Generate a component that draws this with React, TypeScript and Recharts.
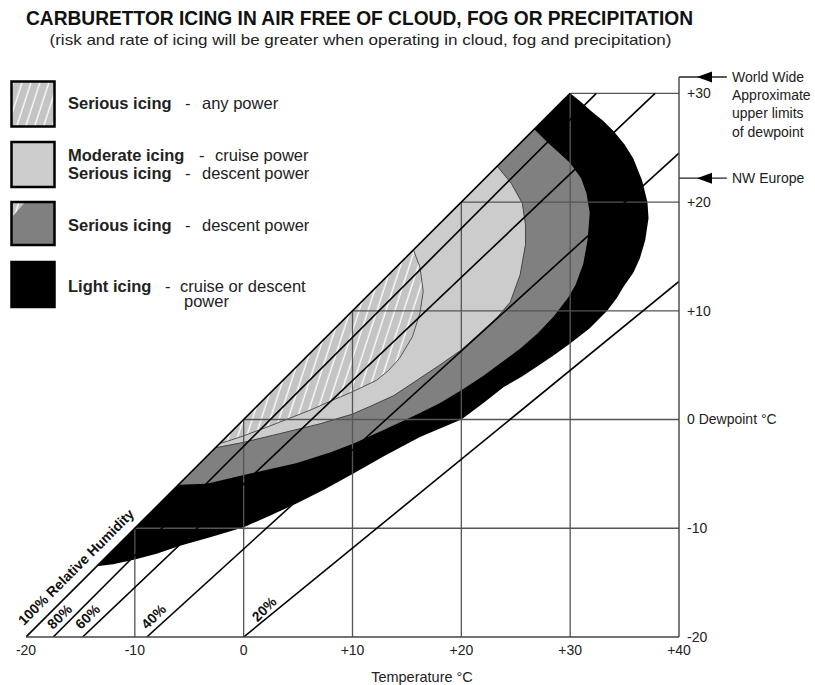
import React from "react";
import { ComposedChart, XAxis, YAxis, Area, Line, ReferenceLine } from "recharts";

//#region Data

type Pt = { t: number; td: number };

const tempTicks = [-20, -10, 0, 10, 20, 30, 40];
const dewTicks = [-20, -10, 0, 10, 20, 30];
const innerTicks = [-10, 0, 10, 20, 30];
const dewTop = 31.5;

const worldWideLimit = 31.5;
const nwEuropeLimit = 22.2;

// zone outlines (temperature, dewpoint), each walked round as a closed loop
const lightIcing: Pt[] = [
  { t: -13.5, td: -13.5 }, { t: 30, td: 30 }, { t: 31, td: 29.2 }, { t: 32, td: 28.3 },
  { t: 33, td: 27.5 }, { t: 34, td: 26.5 }, { t: 35, td: 25.3 }, { t: 35.8, td: 24.0 },
  { t: 36.6, td: 22.0 }, { t: 37.1, td: 20.0 }, { t: 37.2, td: 18.5 }, { t: 36.9, td: 16.5 },
  { t: 36.4, td: 14.8 }, { t: 35.8, td: 13.5 }, { t: 34.9, td: 12.2 }, { t: 34.3, td: 11.2 },
  { t: 33.4, td: 10.0 }, { t: 31.8, td: 8.4 }, { t: 30, td: 7.0 }, { t: 28.5, td: 5.9 },
  { t: 27, td: 4.9 }, { t: 25.5, td: 3.9 }, { t: 23.9, td: 3.0 }, { t: 22, td: 1.5 },
  { t: 20, td: 0 }, { t: 16.2, td: -1.6 }, { t: 13, td: -3.3 }, { t: 10, td: -5.0 },
  { t: 7.5, td: -6.4 }, { t: 4.9, td: -7.7 }, { t: 2.5, td: -8.8 }, { t: 0, td: -9.9 },
  { t: -3, td: -10.8 }, { t: -5.85, td: -11.6 }, { t: -8, td: -12.35 }, { t: -10.1, td: -12.9 },
  { t: -12, td: -13.3 }, { t: -13.5, td: -13.5 },
];

const seriousDescent: Pt[] = [
  { t: -6, td: -6 }, { t: 26.7, td: 26.7 }, { t: 28, td: 25.4 }, { t: 29, td: 24.5 },
  { t: 30, td: 23.6 }, { t: 31, td: 22.2 }, { t: 31.5, td: 20.8 }, { t: 31.8, td: 19.0 },
  { t: 31.6, td: 16.5 }, { t: 31.2, td: 14.3 }, { t: 30.5, td: 12.4 }, { t: 29.8, td: 11.2 },
  { t: 28.5, td: 9.5 }, { t: 27, td: 7.9 }, { t: 25.5, td: 6.6 }, { t: 23.9, td: 5.4 },
  { t: 22, td: 4.0 }, { t: 20, td: 2.7 }, { t: 18, td: 1.5 }, { t: 16.2, td: 0.6 },
  { t: 13, td: -0.9 }, { t: 10.1, td: -2.2 }, { t: 8, td: -3.0 }, { t: 4.9, td: -4.0 },
  { t: 0.9, td: -4.9 }, { t: -3.4, td: -5.9 }, { t: -6, td: -6 },
];

const moderateCruise: Pt[] = [
  { t: -2.6, td: -2.6 }, { t: 23.3, td: 23.3 }, { t: 24.6, td: 21.7 }, { t: 25.6, td: 19.9 },
  { t: 25.9, td: 17.9 }, { t: 25.9, td: 16.1 }, { t: 25.4, td: 13.3 }, { t: 24.5, td: 10.8 },
  { t: 23.3, td: 9.4 }, { t: 22, td: 8.2 }, { t: 20, td: 6.4 }, { t: 18, td: 5.0 },
  { t: 16.2, td: 3.8 }, { t: 13.8, td: 2.2 }, { t: 11.6, td: 1.2 }, { t: 10, td: 0.5 },
  { t: 7, td: -0.4 }, { t: 3.3, td: -1.3 }, { t: 0, td: -2.1 }, { t: -2.6, td: -2.6 },
];

const seriousAny: Pt[] = [
  { t: -2.2, td: -2.2 }, { t: 15.6, td: 15.6 }, { t: 16.2, td: 14.0 }, { t: 16.5, td: 11.8 },
  { t: 16.2, td: 9.8 }, { t: 15.5, td: 7.6 }, { t: 14.3, td: 5.6 }, { t: 13.3, td: 4.5 },
  { t: 12.2, td: 3.6 }, { t: 10.1, td: 2.6 }, { t: 8, td: 1.7 }, { t: 6.2, td: 0.9 },
  { t: 2.4, td: -0.6 }, { t: 0, td: -1.5 }, { t: -1.5, td: -2.0 }, { t: -2.2, td: -2.2 },
];

// relative humidity lines
const rh100: Pt[] = [{ t: -20, td: -20 }, { t: 30, td: 30 }];
const rh80: Pt[] = [{ t: -17.5, td: -20 }, { t: 32.4, td: 30 }];
const rh60: Pt[] = [{ t: -14.8, td: -20 }, { t: 37.8, td: 30 }];
const rh40: Pt[] = [{ t: -8.9, td: -20 }, { t: 40, td: 24.5 }];
const rh20: Pt[] = [{ t: 0, td: -20 }, { t: 40, td: 12.7 }];
const rhLines = [rh80, rh60, rh40, rh20];

// grid stops at the saturation line
const gridVertical: Pt[][] = innerTicks.map((t) => [{ t, td: -20 }, { t, td: t }]);
const gridHorizontal: Pt[][] = innerTicks.map((td) => [{ t: td, td }, { t: 40, td }]);

//#endregion

const font = "'Liberation Sans', Arial, Helvetica, sans-serif";

const fmtTemp = (v: number) => (v > 0 ? `+${v}` : `${v}`);
const fmtDew = (v: number) => (v === 0 ? "0 Dewpoint °C" : v > 0 ? `+${v}` : `${v}`);

const ArrowShape = (props: any) => {
  const { x1, y1, x2, y2 } = props;
  const tip = x1 + 18;
  return (
    <g>
      <line x1={x1} y1={y1} x2={x2} y2={y2} stroke="#222" strokeWidth={1.3} />
      <polygon points={`${tip},${y1} ${tip + 15},${y1 - 5.5} ${tip + 15},${y1 + 5.5}`} fill="#000" />
    </g>
  );
};

const Legend = () => (
  <g fontFamily={font} fontSize={16.5} fill="#222">
    <rect x={11.5} y={81.5} width={43} height={45} fill="url(#hatch)" stroke="#000" strokeWidth={2.5} />
    <rect x={11.5} y={142} width={43} height={45} fill="#cccccc" stroke="#000" strokeWidth={2.5} />
    <rect x={11.5} y={202} width={43} height={43} fill="#808080" stroke="#000" strokeWidth={2.5} />
    <polygon points="13,203.5 24,203.5 13,216" fill="url(#hatch)" />
    <rect x={11.5} y={262} width={43} height={45} fill="#000" stroke="#000" strokeWidth={2.5} />

    <text x={68} y={108.5} fontWeight="bold">Serious icing</text>
    <text x={185} y={108.5}>-</text>
    <text x={202} y={108.5}>any power</text>

    <text x={68} y={161} fontWeight="bold">Moderate icing</text>
    <text x={199} y={161}>-</text>
    <text x={215} y={161}>cruise power</text>
    <text x={68} y={178.5} fontWeight="bold">Serious icing</text>
    <text x={185} y={178.5}>-</text>
    <text x={202} y={178.5}>descent power</text>

    <text x={68} y={230.5} fontWeight="bold">Serious icing</text>
    <text x={185} y={230.5}>-</text>
    <text x={202} y={230.5}>descent power</text>

    <text x={68} y={291.5} fontWeight="bold">Light icing</text>
    <text x={165} y={291.5}>-</text>
    <text x={180} y={291.5}>cruise or descent</text>
    <text x={184} y={306.5}>power</text>
  </g>
);

const Overlay = () => (
  <svg
    width={815}
    height={685}
    style={{ position: "absolute", left: 0, top: 0, pointerEvents: "none" }}
  >
    <defs>
      <pattern id="hatch" width="8.5" height="8.5" patternUnits="userSpaceOnUse" patternTransform="rotate(18)">
        <rect width="8.5" height="8.5" fill="#c4c4c4" />
        <line x1="4" y1="-1" x2="4" y2="9.5" stroke="#ffffff" strokeWidth="1.3" />
      </pattern>
    </defs>

    <text x={26} y={25} fontFamily={font} fontWeight="bold" fontSize={19.5} fill="#111" textLength={667} lengthAdjust="spacingAndGlyphs">
      CARBURETTOR ICING IN AIR FREE OF CLOUD, FOG OR PRECIPITATION
    </text>
    <text x={49.5} y={45} fontFamily={font} fontSize={15} fill="#222" textLength={622} lengthAdjust="spacingAndGlyphs">
      (risk and rate of icing will be greater when operating in cloud, fog and precipitation)
    </text>

    <Legend />

    <g fontFamily={font} fontSize={14} fill="#222">
      <text x={732} y={81.5}>World Wide</text>
      <text x={732} y={99.5}>Approximate</text>
      <text x={732} y={118}>upper limits</text>
      <text x={732} y={136.5}>of dewpoint</text>
      <text x={732} y={182.7}>NW Europe</text>
      <text x={422} y={681.5} fontSize={14.5} textAnchor="middle">Temperature °C</text>
    </g>

    <g fontFamily={font} fontSize={14} fontWeight="bold" fill="#111" textAnchor="middle" dominantBaseline="central">
      <text transform="translate(76,567) rotate(-45)">100% Relative Humidity</text>
      <text transform="translate(59.5,616.5) rotate(-45)">80%</text>
      <text transform="translate(87.5,616.5) rotate(-45)">60%</text>
      <text transform="translate(153.5,616.5) rotate(-45)">40%</text>
      <text transform="translate(264,609) rotate(-45)">20%</text>
    </g>
  </svg>
);

const CarbIcingChart = () => (
  <ComposedChart width={815} height={685} margin={{ top: 77, right: 0, bottom: 0, left: 26 }}>
    <XAxis
      type="number"
      dataKey="t"
      domain={[-20, 40]}
      ticks={tempTicks}
      interval={0}
      allowDataOverflow
      height={48}
      tickLine={false}
      axisLine={{ stroke: "#444", strokeWidth: 1.4 }}
      tick={{ fill: "#222", fontSize: 14, fontFamily: font }}
      tickFormatter={fmtTemp}
    />
    <YAxis
      orientation="right"
      type="number"
      domain={[-20, dewTop]}
      ticks={dewTicks}
      interval={0}
      allowDataOverflow
      width={136}
      tickLine={false}
      axisLine={{ stroke: "#444", strokeWidth: 1.4 }}
      tick={{ fill: "#222", fontSize: 14, fontFamily: font }}
      tickFormatter={fmtDew}
    />

    <Area data={lightIcing} dataKey="td" type="linear" baseValue={-20} fill="#000" fillOpacity={1} stroke="none" dot={false} activeDot={false} isAnimationActive={false} />
    <Area data={seriousDescent} dataKey="td" type="linear" baseValue={-20} fill="#808080" fillOpacity={1} stroke="none" dot={false} activeDot={false} isAnimationActive={false} />
    <Area data={moderateCruise} dataKey="td" type="linear" baseValue={-20} fill="#cccccc" fillOpacity={1} stroke="#444" strokeWidth={1} dot={false} activeDot={false} isAnimationActive={false} />
    <Area data={seriousAny} dataKey="td" type="linear" baseValue={-20} fill="url(#hatch)" fillOpacity={1} stroke="#555" strokeWidth={1} dot={false} activeDot={false} isAnimationActive={false} />

    {gridVertical.map((seg, i) => (
      <Line key={`gv${i}`} data={seg} dataKey="td" type="linear" stroke="#555" strokeWidth={1.3} dot={false} activeDot={false} isAnimationActive={false} />
    ))}
    {gridHorizontal.map((seg, i) => (
      <Line key={`gh${i}`} data={seg} dataKey="td" type="linear" stroke="#555" strokeWidth={1.3} dot={false} activeDot={false} isAnimationActive={false} />
    ))}
    <Line data={rh100} dataKey="td" type="linear" stroke="#000" strokeWidth={1.6} dot={false} activeDot={false} isAnimationActive={false} />
    {rhLines.map((seg, i) => (
      <Line key={`rh${i}`} data={seg} dataKey="td" type="linear" stroke="#000" strokeWidth={1.6} dot={false} activeDot={false} isAnimationActive={false} />
    ))}

    <ReferenceLine
      segment={[{ x: 40, y: worldWideLimit }, { x: 44.4, y: worldWideLimit }]}
      ifOverflow="visible"
      shape={ArrowShape}
    />
    <ReferenceLine
      segment={[{ x: 40, y: nwEuropeLimit }, { x: 44.4, y: nwEuropeLimit }]}
      ifOverflow="visible"
      shape={ArrowShape}
    />
  </ComposedChart>
);

export default function App() {
  return (
    <div style={{ position: "absolute", left: 0, top: 0, width: 815, height: 685, background: "#fff" }}>
      <CarbIcingChart />
      <Overlay />
    </div>
  );
}
